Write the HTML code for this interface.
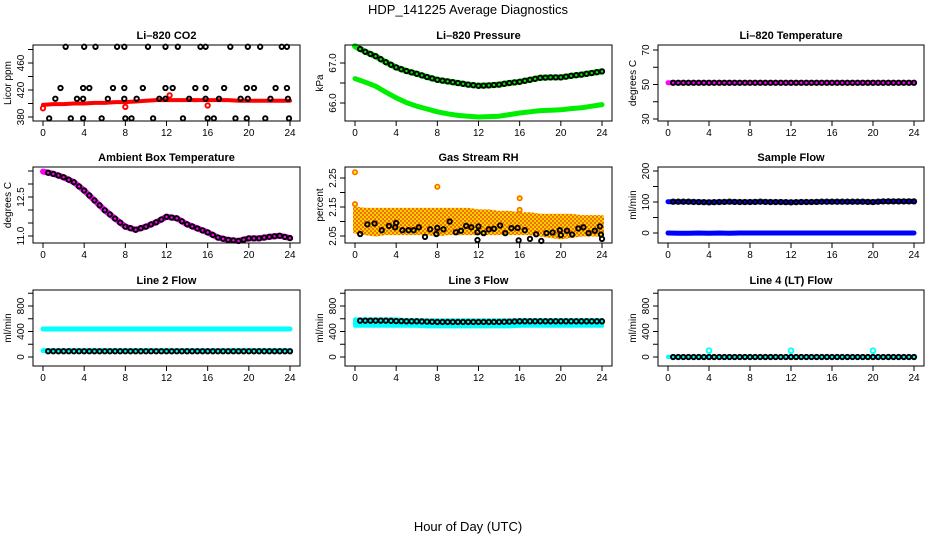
<!DOCTYPE html>
<html><head><meta charset="utf-8">
<style>
body{margin:0;background:#fff;}
svg{display:block;font-family:"Liberation Sans",Arial,sans-serif;}
</style></head>
<body>
<svg id="chart" width="936" height="540" viewBox="0 0 936 540" xmlns="http://www.w3.org/2000/svg">
<defs>
<pattern id="rhpat" width="4" height="4" patternUnits="userSpaceOnUse">
<rect width="4" height="4" fill="#ffd000"/>
<rect x="0" y="0" width="2" height="2" fill="#f07000"/>
<rect x="2" y="2" width="2" height="2" fill="#f07000"/>
</pattern>
</defs>
<rect width="936" height="540" fill="#fff"/>
<text x="468" y="14" font-size="13" text-anchor="middle">HDP_141225  Average Diagnostics</text>
<text x="468" y="531" font-size="13" text-anchor="middle">Hour of Day (UTC)</text>
</svg>
<script>
// ---- data ----
const xTicks=[0,4,8,12,16,20,24];
const hours=[0,1,2,3,4,5,6,7,8,9,10,11,12,13,14,15,16,17,18,19,20,21,22,23,24];
const halfHours=[0.5,1,1.5,2,2.5,3,3.5,4,4.5,5,5.5,6,6.5,7,7.5,8,8.5,9,9.5,10,10.5,11,11.5,12,12.5,13,13.5,14,14.5,15,15.5,16,16.5,17,17.5,18,18.5,19,19.5,20,20.5,21,21.5,22,22.5,23,23.5,24];
// CO2
const co2Red=[398,399,399,400,400,401,401,402,402,403,404,405,405,405,405,405,405,405,405,404,404,404,404,404,404];
const co2RedOutT=[0,8,12.3,16];
const co2RedOutV=[393,395,412,397];
const co2BlackT=[2.2,4.0,5.1,7.2,7.9,10.2,11.9,13.1,15.3,15.8,18.2,19.9,21.1,23.2,23.7,1.7,3.9,4.5,6.8,7.9,9.7,11.9,12.6,14.8,15.8,17.6,19.8,20.5,22.6,23.7,1.2,3.3,3.9,6.3,7.9,9.1,11.3,11.9,14.2,15.8,17.1,19.2,19.9,22.1,23.8,0.6,2.7,3.9,5.7,8.0,8.6,10.7,13.6,16.0,16.6,18.7,19.8,21.6,23.9];
const co2BlackV=[484,484,484,484,484,484,484,484,484,484,484,484,484,484,484,423,423,423,423,423,423,423,423,423,423,423,423,423,423,423,407,407,407,407,407,407,407,407,407,407,407,407,407,407,407,378,378,378,378,378,378,378,378,378,378,378,378,378,378];
// Pressure
const presUpper=[67.42,67.28,67.17,67.02,66.89,66.80,66.73,66.65,66.58,66.54,66.50,66.46,66.43,66.44,66.46,66.50,66.53,66.58,66.63,66.64,66.64,66.68,66.71,66.75,66.79];
const presLower=[66.61,66.52,66.42,66.27,66.13,66.01,65.92,65.85,65.78,65.73,65.69,65.67,65.65,65.66,65.67,65.71,65.75,65.78,65.81,65.82,65.83,65.86,65.88,65.92,65.96];
// Li-820 temperature
const tempMag=[51,51,51,51,51,51,51,51,51,51,51,51,51,51,51,51,51,51,51,51,51,51,51,51,51];
// Ambient
const ambient=[13.48,13.39,13.26,13.07,12.75,12.37,11.99,11.67,11.36,11.24,11.36,11.53,11.74,11.68,11.45,11.29,11.14,10.94,10.85,10.81,10.91,10.91,10.97,11.01,10.92];
// RH
const rhUpper=[2.145,2.14,2.14,2.14,2.14,2.14,2.14,2.14,2.14,2.14,2.14,2.14,2.135,2.135,2.13,2.13,2.125,2.125,2.12,2.12,2.12,2.12,2.115,2.115,2.115];
const rhLower=[2.065,2.06,2.055,2.06,2.06,2.06,2.06,2.06,2.055,2.06,2.06,2.06,2.06,2.06,2.06,2.06,2.06,2.06,2.055,2.05,2.045,2.05,2.055,2.055,2.055];
const rhOutT=[0,0,8,16,16];
const rhOutV=[2.27,2.16,2.22,2.18,2.14];
const rhBlackT=[0.5,1.2,1.9,2.6,3.3,3.9,4.0,4.6,5.2,5.7,6.2,6.8,7.3,7.9,8.0,8.6,9.2,9.8,10.3,10.8,11.3,11.9,11.9,12.0,12.5,13.0,13.5,14.1,14.6,15.2,15.8,15.9,16.5,17.0,17.6,18.1,18.6,19.2,19.9,20.0,20.6,21.1,21.7,22.2,22.7,23.3,23.8,23.9,24];
const rhBlackV=[2.057,2.09,2.093,2.07,2.085,2.08,2.095,2.07,2.07,2.07,2.08,2.047,2.073,2.057,2.078,2.073,2.1,2.063,2.068,2.085,2.08,2.063,2.036,2.083,2.06,2.073,2.075,2.086,2.06,2.077,2.078,2.035,2.07,2.04,2.056,2.033,2.06,2.062,2.07,2.053,2.068,2.055,2.076,2.08,2.06,2.068,2.083,2.055,2.04];
// Sample flow
const sampleHigh=[101,101,101,100,99,100,101,100,100,101,100,100,99,100,100,101,101,101,101,101,100,102,102,102,102];
const sampleLow=[0,-1,-1,0,-1,0,-1,0,0,0,0,0,0,0,0,0,0,0,0,0,0,0,0,0,0];
// Line 2
const line2High=[440,440,440,440,440,440,440,440,440,440,440,440,440,440,440,440,440,440,440,440,440,440,440,440,440];
const line2Low=[100,100,100,100,100,100,100,100,100,100,100,100,100,100,100,100,100,100,100,100,100,100,100,100,100];
const line2Black=[90,90,90,90,90,90,90,90,90,90,90,90,90,90,90,90,90,90,90,90,90,90,90,90,90];
// Line 3
const line3Top=[590,590,590,590,590,580,580,575,575,575,575,575,575,575,575,575,580,580,580,580,580,580,580,580,580];
const line3Bot=[490,490,490,490,490,490,490,480,480,480,480,480,480,480,480,480,490,490,490,490,490,490,490,490,490];
const line3Black=[570,570,570,570,565,560,560,555,550,550,550,550,550,550,550,555,560,560,560,560,560,560,560,560,560];
// Line 4
const line4Cyan=[0,0,0,0,0,0,0,0,0,0,0,0,0,0,0,0,0,0,0,0,0,0,0,0,0];
const line4SpikeT=[4,12,20];
const line4SpikeV=[100,100,100];
const line4Black=[0,0,0,0,0,0,0,0,0,0,0,0,0,0,0,0,0,0,0,0,0,0,0,0,0];

// ---- drawing ----
const NS="http://www.w3.org/2000/svg";
const svg=document.getElementById('chart');
function mk(tag,attrs,parent){const e=document.createElementNS(NS,tag);for(const k in attrs)e.setAttribute(k,attrs[k]);(parent||svg).appendChild(e);return e;}

function panel(cfg){
  const g=mk('g',{});
  
  
  const xs=h=>cfg.x0+(cfg.x24-cfg.x0)*h/24;
  const ys=v=>cfg.py1+(v-cfg.v1)*(cfg.py2-cfg.py1)/(cfg.v2-cfg.v1);
  const t=mk('text',{x:(cfg.bx0+cfg.bx1)/2,y:cfg.by0-6,'font-size':11,'font-weight':'bold','text-anchor':'middle'},g);
  t.textContent=cfg.title;
  
  
  const yl=mk('text',{x:0,y:0,'font-size':10,'text-anchor':'middle',transform:`translate(${cfg.bx0-22},${(cfg.by0+cfg.by1)/2}) rotate(-90)`},g);
  yl.textContent=cfg.ylab;
  
  
  const plot=mk('g',{},g);
  
  
  cfg.draw(plot,xs,ys);
  mk('rect',{x:cfg.bx0,y:cfg.by0,width:cfg.bx1-cfg.bx0,height:cfg.by1-cfg.by0,fill:'none',stroke:'#000','stroke-width':1},g);
  xTicks.forEach(h=>{
    mk('line',{x1:xs(h),x2:xs(h),y1:cfg.by1,y2:cfg.by1+5,stroke:'#000'},g);
    const tx=mk('text',{x:xs(h),y:cfg.by1+15,'font-size':10,'text-anchor':'middle'},g);
    tx.textContent=h;
    
    
  });
  cfg.yticks.forEach(v=>{
    mk('line',{x1:cfg.bx0,x2:cfg.bx0-5,y1:ys(v),y2:ys(v),stroke:'#000'},g);
  });
  cfg.ylabels.forEach(v=>{
    const tx=mk('text',{x:0,y:0,'font-size':10,'text-anchor':'middle',transform:`translate(${cfg.bx0-9},${ys(v)}) rotate(-90)`},g);
    tx.textContent=cfg.fmt?cfg.fmt(v):v;
    
    
  });
}
function pts(p,T,V,xs,ys,col,r,sw,fill){
  T.forEach((h,i)=>{const c=mk('circle',{cx:xs(h),cy:ys(V[i]),r:r,fill:fill||'none',stroke:col,'stroke-width':sw},p);
    
    });
}
function band(p,T,V,xs,ys,col,w){
  const l=mk('polyline',{points:T.map((h,i)=>xs(h)+','+ys(V[i])).join(' '),fill:'none',stroke:col,'stroke-width':w,'stroke-linecap':'round','stroke-linejoin':'round'},p);
  
  
}
function area(p,T,U,L,xs,ys,col){
  const a=T.map((h,i)=>xs(h)+','+ys(U[i])).concat(T.slice().reverse().map((h,j)=>xs(h)+','+ys(L[T.length-1-j])));
  const e=mk('polygon',{points:a.join(' '),fill:col,stroke:col,'stroke-width':4,'stroke-linejoin':'round'},p);
  
  
}
function interpAt(T,V,h){for(let i=0;i<T.length-1;i++){if(h>=T[i]&&h<=T[i+1]){const f=(h-T[i])/(T[i+1]-T[i]);return V[i]+f*(V[i+1]-V[i]);}}return V[V.length-1];}

const C1={bx0:33,bx1:300,x0:43,x24:290},C2={bx0:345,bx1:612,x0:355,x24:602},C3={bx0:658,bx1:924,x0:668,x24:914};
const R1={by0:45,by1:121},R2={by0:167,by1:243},R3={by0:290,by1:366};
const f1=v=>v.toFixed(1), f2=v=>v.toFixed(2);
const BW=1.9;

panel(Object.assign({name:'panel-co2',title:'Li\u2013820 CO2',ylab:'Licor ppm',v1:380,py1:117,v2:420,py2:90,yticks:[380,400,420,440,460,480],ylabels:[380,420,460],
 draw:(p,xs,ys)=>{band(p,hours,co2Red,xs,ys,'#f00',4);pts(p,co2RedOutT,co2RedOutV,xs,ys,'#f00',2.2,BW);pts(p,co2BlackT,co2BlackV,xs,ys,'#000',2.2,BW);}},C1,R1));
panel(Object.assign({name:'panel-pressure',title:'Li\u2013820 Pressure',ylab:'kPa',v1:67,py1:63,v2:66,py2:103,yticks:[66,66.5,67],ylabels:[66,67],fmt:f1,
 draw:(p,xs,ys)=>{band(p,hours,presUpper,xs,ys,'#0e0',6);band(p,hours,presLower,xs,ys,'#0e0',5);
  pts(p,halfHours,halfHours.map(h=>interpAt(hours,presUpper,h)),xs,ys,'#000',2.2,BW);}},C2,R1));
panel(Object.assign({name:'panel-li820-temp',title:'Li\u2013820 Temperature',ylab:'degrees C',v1:30,py1:119,v2:70,py2:50,yticks:[30,40,50,60,70],ylabels:[30,50,70],
 draw:(p,xs,ys)=>{band(p,hours,tempMag,xs,ys,'#f0f',5);pts(p,halfHours,halfHours.map(h=>interpAt(hours,tempMag,h)),xs,ys,'#000',2.2,BW);}},C3,R1));
panel(Object.assign({name:'panel-ambient',title:'Ambient Box Temperature',ylab:'degrees C',v1:11,py1:236,v2:12.5,py2:197,yticks:[11,11.5,12,12.5,13,13.5],ylabels:[11,12.5],fmt:f1,
 draw:(p,xs,ys)=>{band(p,hours,ambient,xs,ys,'#f0f',6);pts(p,halfHours,halfHours.map(h=>interpAt(hours,ambient,h)),xs,ys,'#000',2.2,BW);}},C1,R2));
panel(Object.assign({name:'panel-rh',title:'Gas Stream RH',ylab:'percent',v1:2.05,py1:236,v2:2.25,py2:178,yticks:[2.05,2.1,2.15,2.2,2.25],ylabels:[2.05,2.15,2.25],fmt:f2,
 draw:(p,xs,ys)=>{area(p,hours,rhUpper,rhLower,xs,ys,'url(#rhpat)');pts(p,rhOutT,rhOutV,xs,ys,'#f60',2.2,1.6,'#ff0');pts(p,rhBlackT,rhBlackV,xs,ys,'#000',2.2,BW);}},C2,R2));
panel(Object.assign({name:'panel-sample-flow',title:'Sample Flow',ylab:'ml/min',v1:0,py1:233,v2:200,py2:171,yticks:[0,50,100,150,200],ylabels:[0,100,200],
 draw:(p,xs,ys)=>{band(p,hours,sampleHigh,xs,ys,'#00f',5);band(p,hours,sampleLow,xs,ys,'#00f',5);pts(p,halfHours,halfHours.map(h=>interpAt(hours,sampleHigh,h)),xs,ys,'#000',2.2,BW);}},C3,R2));
panel(Object.assign({name:'panel-line2-flow',title:'Line 2 Flow',ylab:'ml/min',v1:0,py1:357,v2:800,py2:306,yticks:[0,200,400,600,800,1000],ylabels:[0,400,800],
 draw:(p,xs,ys)=>{band(p,hours,line2High,xs,ys,'#0ff',5);band(p,hours,line2Low,xs,ys,'#0ff',5);pts(p,halfHours,halfHours.map(h=>interpAt(hours,line2Black,h)),xs,ys,'#000',2.2,BW);}},C1,R3));
panel(Object.assign({name:'panel-line3-flow',title:'Line 3 Flow',ylab:'ml/min',v1:0,py1:357,v2:800,py2:306,yticks:[0,200,400,600,800,1000],ylabels:[0,400,800],
 draw:(p,xs,ys)=>{area(p,hours,line3Top,line3Bot,xs,ys,'#0ff');pts(p,halfHours,halfHours.map(h=>interpAt(hours,line3Black,h)),xs,ys,'#000',2.2,BW);}},C2,R3));
panel(Object.assign({name:'panel-line4-flow',title:'Line 4 (LT) Flow',ylab:'ml/min',v1:0,py1:357,v2:800,py2:306,yticks:[0,200,400,600,800,1000],ylabels:[0,400,800],
 draw:(p,xs,ys)=>{band(p,hours,line4Cyan,xs,ys,'#0ff',4);pts(p,line4SpikeT,line4SpikeV,xs,ys,'#0ff',2.4,1.8);pts(p,halfHours,halfHours.map(h=>interpAt(hours,line4Black,h)),xs,ys,'#000',2.2,BW);}},C3,R3));
</script>
</body></html>
